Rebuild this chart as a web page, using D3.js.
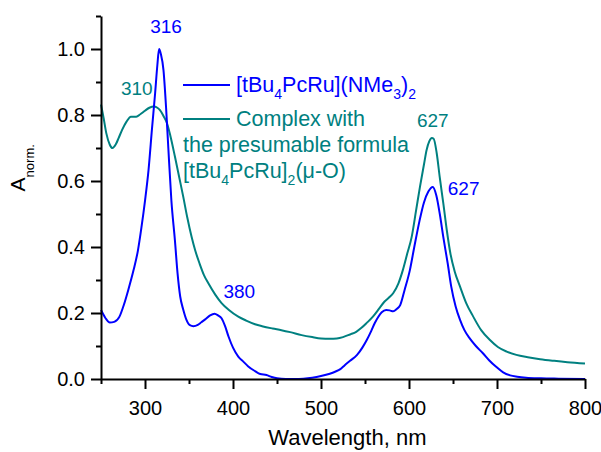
<!DOCTYPE html>
<html>
<head>
<meta charset="utf-8">
<script src="https://cdn.jsdelivr.net/npm/d3@7"></script>
<style>
  body { margin: 0; background: #fff; }
  svg { font-family: Arial, "Liberation Sans", sans-serif; }
  .axis path, .axis line { stroke: #000; stroke-width: 2; }
  .axis text { font-size: 20px; fill: #000; }
</style>
</head>
<body>
<div id="chart"></div>
<script>
// wavelength (nm) and normalised absorbance for [tBu4PcRu](NMe3)2
var blueWl = [250,255,260,265,271,276,281,287,292,296,300,304,308,311.5,314,316,318,321,324,326.5,330,334,337,340,343.5,347,351,355,360,364,368,374,379,383,387,391,395,400,406,412,417,425,431,438,444,450,460,470,480,490,500,510,516,522,527,533,541,547,552,557,561,565,569,574,578,582,586,590,595,601,606,612,617,622,627,631,635,639,644,648,653,658,663,669,676,684,691,699,707,715,723,733,750,770,800];
var blueA = [0.209,0.185,0.171,0.173,0.189,0.225,0.27,0.33,0.39,0.46,0.54,0.633,0.76,0.866,0.95,1.0,0.985,0.936,0.82,0.70,0.54,0.42,0.32,0.25,0.21,0.18,0.163,0.16,0.164,0.172,0.18,0.193,0.198,0.193,0.184,0.16,0.128,0.095,0.068,0.052,0.039,0.024,0.015,0.012,0.006,0.002,0.0,0.0,0.001,0.004,0.009,0.016,0.022,0.03,0.042,0.055,0.073,0.095,0.118,0.145,0.169,0.188,0.202,0.209,0.208,0.205,0.212,0.224,0.27,0.33,0.40,0.48,0.535,0.568,0.582,0.557,0.50,0.43,0.35,0.28,0.22,0.179,0.148,0.123,0.1,0.078,0.057,0.037,0.02,0.011,0.007,0.004,0.002,0.001,0.0];

// the mu-oxo complex
var tealWl = [250,253,256,260,263,267,270,274,279,284,290,295,300,305,310,314,317,321,325,329,334,339,343.5,348,353,357,362,367,372,380,387,395,406,415,425,433,445,455,465,478,490,500,510,518,525,533,540,546,552,559,566,572,577,582,588,593,598,603,608,612.5,617,620,623,626,628,631.5,635,639,643,647,652,658,665,673,682,692,701,711,722,735,749,765,780,800];
var tealA = [0.832,0.79,0.745,0.71,0.70,0.712,0.73,0.755,0.78,0.795,0.795,0.803,0.813,0.822,0.826,0.822,0.815,0.797,0.775,0.735,0.674,0.61,0.552,0.49,0.43,0.39,0.35,0.315,0.29,0.255,0.23,0.21,0.189,0.177,0.166,0.16,0.153,0.148,0.142,0.133,0.127,0.123,0.122,0.123,0.127,0.135,0.143,0.155,0.17,0.189,0.213,0.234,0.246,0.26,0.29,0.33,0.38,0.43,0.51,0.583,0.65,0.694,0.72,0.73,0.728,0.684,0.61,0.532,0.45,0.381,0.325,0.28,0.23,0.189,0.148,0.118,0.097,0.083,0.073,0.066,0.06,0.055,0.051,0.047];

var xMajor = [300,400,500,600,700,800];
var xMinor = [250,350,450,550,650,750];
var yMajor = [0,0.2,0.4,0.6,0.8,1.0];
var yMinor = [0.1,0.3,0.5,0.7,0.9,1.1];

// peak labels: [wavelength, absorbance, text, series]
var peakLabels = [
    [316, 1.0, "316", "blue"],
    [310, 0.826, "310", "teal"],
    [380, 0.198, "380", "blue"],
    [627, 0.73, "627", "teal"],
    [627, 0.582, "627", "blue"]
];

var colors = {blue: "#0000ff", teal: "#008080"};

var margin = {top: 16, right: 16, bottom: 73, left: 101};
var width = 601 - margin.left - margin.right;
var height = 452 - margin.top - margin.bottom;

var svg = d3.select("#chart").append("svg")
    .attr("width", 601)
    .attr("height", 452)
    .append("g")
    .attr("transform", "translate(" + margin.left + "," + margin.top + ")");

var x = d3.scaleLinear().domain([250, 800]).range([0, width]);
var y = d3.scaleLinear().domain([0, 1.1]).range([height, 0]);

var line = d3.line()
    .x(function(d) { return x(d[0]); })
    .y(function(d) { return y(d[1]); })
    .curve(d3.curveMonotoneX);

svg.append("path")
    .datum(d3.zip(tealWl, tealA))
    .attr("fill", "none")
    .attr("stroke", colors.teal)
    .attr("stroke-width", 2)
    .attr("d", line);

svg.append("path")
    .datum(d3.zip(blueWl, blueA))
    .attr("fill", "none")
    .attr("stroke", colors.blue)
    .attr("stroke-width", 2)
    .attr("d", line);

// axes
svg.append("g")
    .attr("class", "axis")
    .attr("transform", "translate(0," + height + ")")
    .call(d3.axisBottom(x).tickValues(xMinor).tickSize(5).tickFormat(""))
    .select(".domain").remove();

svg.append("g")
    .attr("class", "axis")
    .attr("transform", "translate(0," + height + ")")
    .call(d3.axisBottom(x).tickValues(xMajor).tickSizeInner(10).tickSizeOuter(0).tickPadding(12)
        .tickFormat(d3.format("d")));

svg.append("g")
    .attr("class", "axis")
    .call(d3.axisLeft(y).tickValues(yMinor).tickSize(5).tickFormat(""))
    .select(".domain").remove();

svg.append("g")
    .attr("class", "axis")
    .call(d3.axisLeft(y).tickValues(yMajor).tickSizeInner(10).tickSizeOuter(0).tickPadding(6)
        .tickFormat(d3.format(".1f")));

// axis titles
svg.append("text")
    .attr("x", x(530))
    .attr("y", height + 66)
    .attr("text-anchor", "middle")
    .style("font-size", "22px")
    .text("Wavelength, nm");

var yTitle = svg.append("text")
    .attr("transform", "translate(" + (25 - margin.left) + "," + (y(0.64)) + ") rotate(-90)")
    .attr("text-anchor", "middle")
    .style("font-size", "21px");
yTitle.append("tspan").text("A");
yTitle.append("tspan").attr("dy", 9).style("font-size", "13px").text("norm.");

// peak labels
var labelOffsets = {
    "316blue": [7, -16, "middle"],
    "310teal": [-17, -11, "middle"],
    "380blue": [8, -16, "start"],
    "627teal": [0, -11, "middle"],
    "627blue": [15, 8, "start"]
};
peakLabels.forEach(function(p) {
    var off = labelOffsets[p[2] + p[3]];
    svg.append("text")
        .attr("x", x(p[0]) + off[0])
        .attr("y", y(p[1]) + off[1])
        .attr("text-anchor", off[2])
        .attr("fill", colors[p[3]])
        .style("font-size", "19px")
        .text(p[2]);
});

// legend
var legend = svg.append("g")
    .attr("transform", "translate(" + (183 - margin.left) + "," + (85 - margin.top) + ")");

function addRich(g, xPos, yPos, parts, color) {
    var t = g.append("text")
        .attr("x", xPos)
        .attr("y", yPos)
        .attr("fill", color)
        .style("font-size", "21.5px");
    var shift = 0;
    parts.forEach(function(p) {
        var sub = p[1];
        var target = sub ? 7 : 0;
        t.append("tspan")
            .attr("dy", target - shift)
            .style("font-size", sub ? "14px" : "21.5px")
            .text(p[0]);
        shift = target;
    });
}

legend.append("line")
    .attr("x1", 0).attr("x2", 47).attr("y1", 0).attr("y2", 0)
    .attr("stroke", colors.blue).attr("stroke-width", 2);
addRich(legend, 53, 7, [["[tBu", 0], ["4", 1], ["PcRu](NMe", 0], ["3", 1], [")", 0], ["2", 1]], colors.blue);

legend.append("line")
    .attr("x1", 0).attr("x2", 47).attr("y1", 34).attr("y2", 34)
    .attr("stroke", colors.teal).attr("stroke-width", 2);
addRich(legend, 53, 41, [["Complex with", 0]], colors.teal);
addRich(legend, 0, 67, [["the presumable formula", 0]], colors.teal);
addRich(legend, 0, 93, [["[tBu", 0], ["4", 1], ["PcRu]", 0], ["2", 1], ["(\u03bc-O)", 0]], colors.teal);
</script>
</body>
</html>
